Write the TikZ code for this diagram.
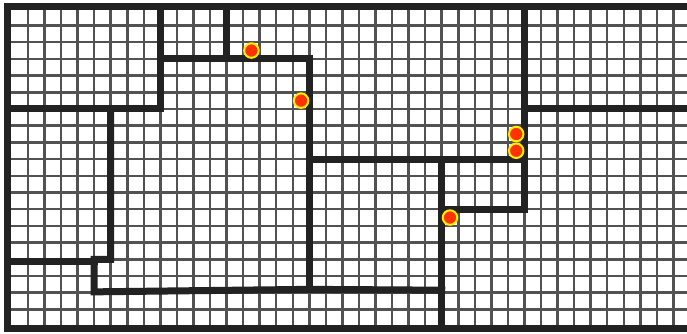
\documentclass[tikz,border=0pt]{standalone}
\usetikzlibrary{positioning}
\definecolor{dotred}{RGB}{255,51,0}
\definecolor{dotyellow}{RGB}{255,236,0}
\definecolor{wallgray}{RGB}{34,34,34}

\begin{document}
\begin{tikzpicture}[
  x=16.55pt, y=-16.7pt,
  gridline/.style={black!68, line width=2.5pt},
  wall/.style={wallgray, line width=7pt, line cap=rect, line join=miter},
  dot/.style={circle, fill=dotred, draw=dotyellow, line width=2pt,
              minimum size=14.5pt, inner sep=0pt}
]
  \useasboundingbox (-1.692,-1.527) rectangle (39.82,18.47);
  \fill[white] (-1.692,-1.527) rectangle (39.82,18.47);

  % grid
  \foreach \i in {0,...,39}
    \draw[gridline] (\i,-1.11) -- (\i,18.17);
  \foreach \j in {0,...,17}
    \draw[gridline] (-1.21,\j) -- (39.82,\j);

  % outer walls
  \draw[wall] (39.9,-1.11) -- (-1.21,-1.11) -- (-1.21,18.17) -- (39.9,18.17);

  % inner walls
  \draw[wall] (8,-1.11) -- (8,5) -- (-1.21,5);
  \draw[wall] (12,-1.11) -- (12,2);
  \draw[wall] (8,2) -- (17,2) -- (17,15.8);
  \draw[wall] (17,8) -- (30,8);
  \draw[wall] (30,-1.11) -- (30,11) -- (25,11);
  \draw[wall] (30,5) -- (39.9,5);
  \draw[wall] (25,8) -- (25,18.17);
  \draw[wall] (5,5) -- (5,14) -- (4,14) -- (4,15.95) -- (17,15.8) -- (25,15.85);
  \draw[wall] (-1.21,14.14) -- (4,14.14);

  % markers
  \node[dot] (m1) at (13.5,1.5) {};
  \node[dot] (m2) at (16.5,4.5) {};
  \node[dot] (m3) at (29.5,6.5) {};
  \node[dot] (m4) at (29.5,7.5) {};
  \node[dot] (m5) at (25.5,11.5) {};
\end{tikzpicture}
\end{document}
